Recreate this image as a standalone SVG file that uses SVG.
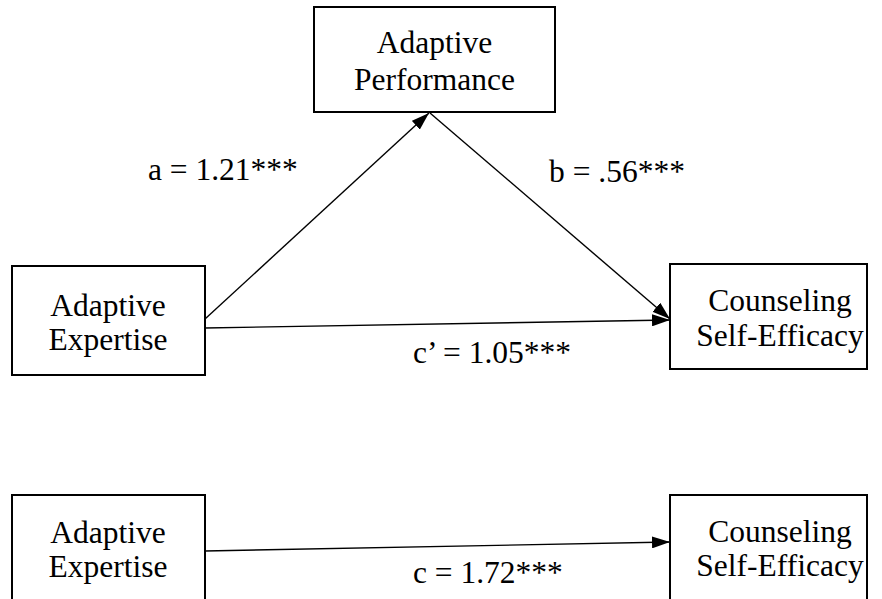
<svg xmlns="http://www.w3.org/2000/svg" width="882" height="599" viewBox="0 0 882 599">
<style>
.box{fill:#fff;stroke:#000;stroke-width:2}
.t{font-size:31.5px;fill:#000}
.c{text-anchor:middle}
.ln{stroke:#000;stroke-width:1.4;fill:none;marker-end:url(#ah)}
</style>
<defs>
<marker id="ah" markerUnits="userSpaceOnUse" markerWidth="18" markerHeight="12" refX="18" refY="6" orient="auto">
<path d="M0,0 L18,6 L0,12 z" fill="#000"/>
</marker>
</defs>
<rect width="882" height="599" fill="#fff"/>
<g id="connectors">
<line class="ln" x1="205" y1="319" x2="429" y2="113"/>
<line class="ln" x1="430" y1="113" x2="670" y2="319"/>
<line class="ln" x1="205" y1="328" x2="670" y2="320"/>
<line class="ln" x1="205" y1="551" x2="670" y2="542"/>
</g>
<g font-family="Liberation Serif, DejaVu Serif, serif">
<g id="adaptive-performance">
<rect class="box" x="314" y="7" width="241" height="105"/>
<text class="t c" x="434.5" y="53">Adaptive</text>
<text class="t c" x="434.5" y="90">Performance</text>
</g>
<g id="adaptive-expertise-1">
<rect class="box" x="12" y="266" width="193" height="109"/>
<text class="t c" x="108" y="316">Adaptive</text>
<text class="t c" x="108" y="350">Expertise</text>
</g>
<g id="cse-1">
<rect class="box" x="670" y="264" width="197" height="105"/>
<text class="t c" x="780" y="311">Counseling</text>
<text class="t c" x="780" y="346">Self-Efficacy</text>
</g>
<g id="adaptive-expertise-2">
<rect class="box" x="12" y="495" width="193" height="110"/>
<text class="t c" x="108" y="543">Adaptive</text>
<text class="t c" x="108" y="577">Expertise</text>
</g>
<g id="cse-2">
<rect class="box" x="670" y="495" width="197" height="110"/>
<text class="t c" x="780" y="542">Counseling</text>
<text class="t c" x="780" y="576">Self-Efficacy</text>
</g>
<g id="labels">
<text class="t" x="148" y="180">a = 1.21***</text>
<text class="t" x="549" y="182">b = .56***</text>
<text class="t" x="413" y="363">c’ = 1.05***</text>
<text class="t" x="413" y="583">c = 1.72***</text>
</g>
</g>
</svg>
